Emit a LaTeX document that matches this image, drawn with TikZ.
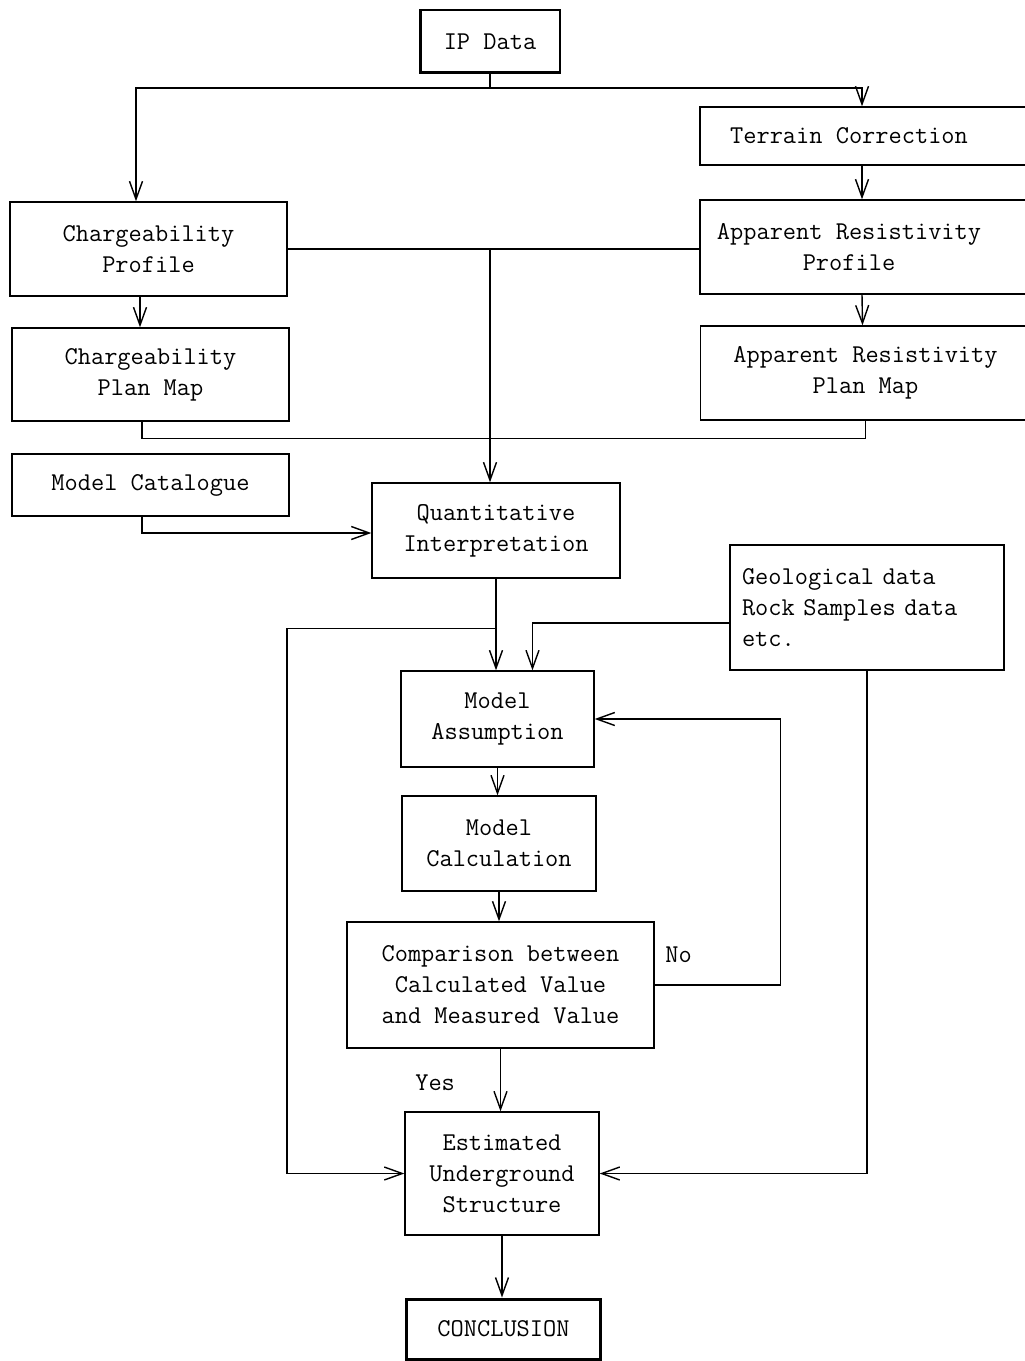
\documentclass[tikz,border=0pt]{standalone}
\usepackage{fontspec}
\usetikzlibrary{arrows.meta}

\tikzset{
  box/.style={draw,line width=0.8pt,align=center,font=\ttfamily\fontsize{14.6}{17.6}\selectfont},
  heavybox/.style={box,line width=1.7pt},
  lbl/.style={font=\ttfamily\fontsize{14.6}{17.6}\selectfont},
  >={Straight Barb[length=3.6mm,width=2.6mm]}
}
\newcommand{\rpad}{\hspace*{0.64cm}}

\begin{document}
\begin{tikzpicture}[x=0.02cm,y=-0.02cm,line width=0.8pt]
    \useasboundingbox (0,0) rectangle (1024,1361);
    % left column
    \node[heavybox,minimum width=2.8cm,minimum height=1.26cm] (ip) at (490,41.5) {IP Data};
    \node[box,minimum width=5.54cm,minimum height=1.88cm] (cprof) at (148.5,249) {Chargeability\\Profile};
    \node[box,minimum width=5.54cm,minimum height=1.86cm] (cmap) at (150.5,374.5) {Chargeability\\Plan Map};
    \node[box,minimum width=5.54cm,minimum height=1.24cm] (catalog) at (150.5,485) {Model Catalogue};
    % right column (runs off the page edge)
    \node[box,minimum width=6.6cm,minimum height=1.16cm] (terrain) at (865,136) {Terrain Correction\rpad};
    \node[box,minimum width=6.6cm,minimum height=1.88cm] (rprof) at (865,247) {Apparent Resistivity\rpad\\Profile\rpad};
    \node[box,minimum width=6.6cm,minimum height=1.88cm] (rmap) at (865.5,373) {Apparent Resistivity\\Plan Map};
    \node[box,minimum width=5.48cm,minimum height=2.5cm,text width=5.0cm,align=left] (geo) at (867,607.5) {Geological data\\Rock Samples data\\etc.};
    % centre column
    \node[box,minimum width=4.96cm,minimum height=1.9cm] (quant) at (496,530.5) {Quantitative\\Interpretation};
    \node[box,minimum width=3.86cm,minimum height=1.92cm] (assume) at (497.5,719) {Model\\Assumption};
    \node[box,minimum width=3.88cm,minimum height=1.9cm] (calc) at (499,843.5) {Model\\Calculation};
    \node[box,minimum width=6.14cm,minimum height=2.52cm] (comp) at (500.5,985) {Comparison between\\Calculated Value\\and Measured Value};
    \node[box,minimum width=3.88cm,minimum height=2.46cm] (est) at (502,1173.5) {Estimated\\Underground\\Structure};
    \node[heavybox,minimum width=3.9cm,minimum height=1.2cm] (concl) at (503.5,1329) {CONCLUSION};

    % junctions
    \coordinate (tIP) at (490,88);
    \coordinate (tQ) at (cprof.east -| tIP);
    \path (quant.south) ++(0,50) coordinate (tA);

    \draw (ip.south) -- (tIP);
    \draw[->] (tIP) -| ([xshift=-2.5mm]cprof.north);
    \draw[->] (tIP) -| ([xshift=-0.6mm]terrain.north);
    \draw[->] ([xshift=-0.6mm]terrain.south) -- ([xshift=-0.6mm]rprof.north);
    \draw[->] ([xshift=-0.6mm]rprof.south) -- ([xshift=-0.6mm]rmap.north);
    \draw[->] ([xshift=-1.7mm]cprof.south) -- ([xshift=-1.7mm]cprof.south |- cmap.north);
    \draw (cprof.east) -- (cprof.east -| rprof.west);
    \draw[->] (tQ) -- (tQ |- quant.north);
    \draw ([xshift=-1.7mm]cmap.south) -- ++(0,17) -| (rmap.south);
    \draw[->] ([xshift=-1.7mm]catalog.south) |- ([yshift=-0.5mm]quant.west);
    \draw[->] (quant.south) -- (quant.south |- assume.north);
    \draw[->] (tA) -- ++(-209,0) |- (est.west);
    \draw[->] ([yshift=-3.1mm]geo.west) -| ([xshift=7mm]assume.north);
    \draw[->] (geo.south) |- (est.east);
    \draw[->] (assume.south) -- (assume.south |- calc.north);
    \draw[->] (calc.south) -- (calc.south |- comp.north);
    \draw[->] (comp.east) -- node[pos=0.19,anchor=south,yshift=3.2mm,lbl] {No} ++(126,0) |- (assume.east);
    \draw[->] (comp.south) -- node[midway,anchor=east,xshift=-7.8mm,yshift=-0.5mm,lbl] {Yes} (comp.south |- est.north);
    \draw[->] (est.south) -- (est.south |- concl.north);
\end{tikzpicture}
\end{document}
